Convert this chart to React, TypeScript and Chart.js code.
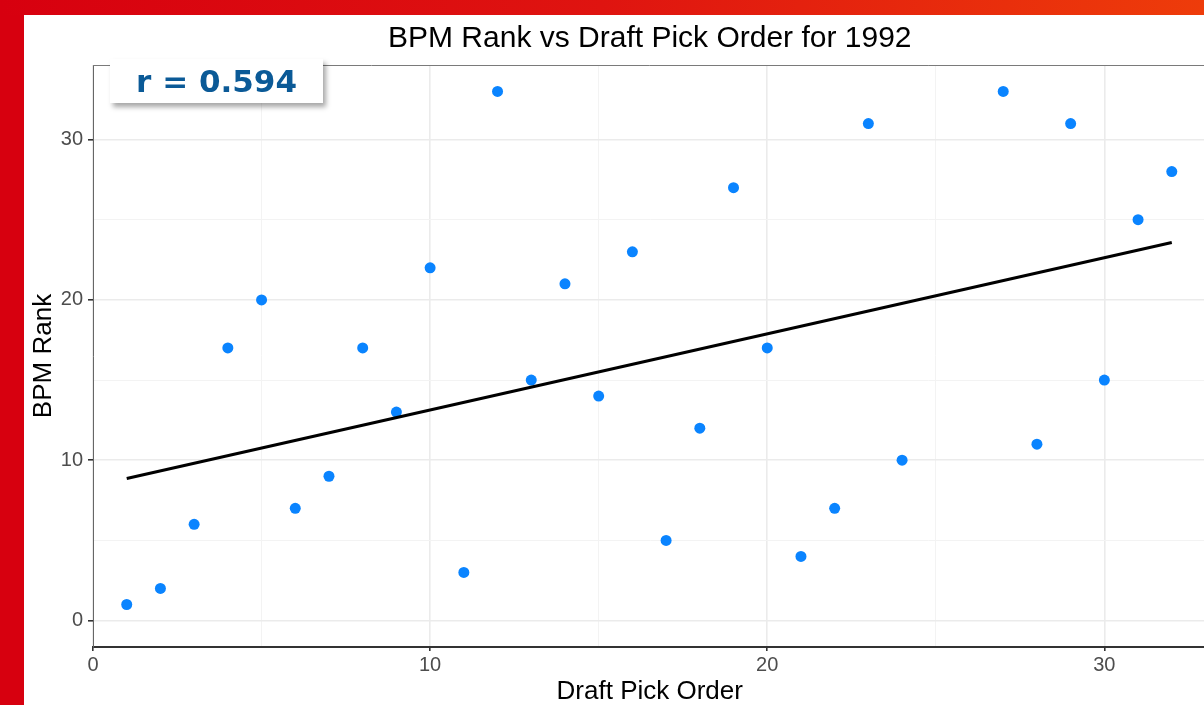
import React, { useEffect, useRef } from "react";
import { Chart, registerables } from "chart.js";

Chart.register(...registerables);

const pickOrder = [1, 2, 3, 4, 5, 6, 7, 8, 9, 10, 11, 12, 13, 14, 15, 16, 17, 18, 19, 20, 21, 22, 23, 24, 27, 28, 29, 30, 31, 32];
const bpmRank = [1, 2, 6, 17, 20, 7, 9, 17, 13, 22, 3, 33, 15, 21, 14, 23, 5, 12, 27, 17, 4, 7, 31, 10, 33, 11, 31, 15, 25, 28];
const fitX = [1, 32];
const fitY = [8.86, 23.58];
const xTicks = [0, 5, 10, 15, 20, 25, 30];
const yTicks = [0, 5, 10, 15, 20, 25, 30];
const titleText = "BPM Rank vs Draft Pick Order for 1992";
const xTitle = "Draft Pick Order";
const yTitle = "BPM Rank";
const rLabel = "r = 0.594";

const FONT = "'Liberation Sans', Arial, sans-serif";

const titlePlugin = {
  id: "centerTitle",
  afterDraw(chart: any) {
    const { ctx, chartArea } = chart;
    ctx.save();
    // top panel border
    ctx.strokeStyle = "#7a7a7a";
    ctx.lineWidth = 1;
    ctx.beginPath();
    ctx.moveTo(chartArea.left, chartArea.top + 0.5);
    ctx.lineTo(chartArea.right, chartArea.top + 0.5);
    ctx.stroke();
    ctx.fillStyle = "#000";
    ctx.font = `30px ${FONT}`;
    ctx.textAlign = "center";
    ctx.textBaseline = "middle";
    ctx.fillText(titleText, (chartArea.left + chartArea.right) / 2, 24);
    ctx.restore();
  },
};

export default function App() {
  const ref = useRef<HTMLCanvasElement>(null);

  useEffect(() => {
    if (!ref.current) return;
    const isMajor = (v: number) => v % 10 === 0;
    const chart = new Chart(ref.current, {
      type: "scatter",
      data: {
        datasets: [
          {
            type: "line",
            data: fitX.map((x, i) => ({ x, y: fitY[i] })),
            borderColor: "#000",
            borderWidth: 3,
            pointRadius: 0,
            fill: false,
            order: 1,
          } as any,
          {
            type: "scatter",
            data: pickOrder.map((x, i) => ({ x, y: bpmRank[i] })),
            backgroundColor: "#0a84ff",
            borderWidth: 0,
            pointRadius: 5.5,
            order: 2,
          },
        ],
      },
      plugins: [titlePlugin],
      options: {
        animation: false,
        responsive: false,
        devicePixelRatio: 1,
        layout: { padding: { top: 50, left: 0, right: 0, bottom: 0 } },
        plugins: {
          legend: { display: false },
          title: { display: false },
          tooltip: { enabled: false },
        },
        scales: {
          x: {
            type: "linear",
            min: 0,
            max: 33.03,
            afterBuildTicks: (s: any) => {
              s.ticks = xTicks.map((v) => ({ value: v }));
            },
            afterFit: (s: any) => {
              s.height = 58;
            },
            ticks: {
              callback: (v: any) => (isMajor(Number(v)) ? String(v) : ""),
              color: "#4d4d4d",
              font: { family: FONT, size: 20 },
              padding: 2,
              maxRotation: 0,
              autoSkip: false,
            },
            grid: {
              color: (c: any) => (isMajor(c.tick?.value ?? 0) ? "#ebebeb" : "#f3f3f3"),
              lineWidth: (c: any) => (isMajor(c.tick?.value ?? 0) ? 1.6 : 1),
              tickColor: (c: any) => (isMajor(c.tick?.value ?? 0) ? "#333" : "rgba(0,0,0,0)"),
              tickLength: 4,
            },
            border: { color: "#333", width: 2 },
            title: {
              display: true,
              text: xTitle,
              color: "#000",
              font: { family: FONT, size: 26, lineHeight: 1 },
              padding: { top: 0, bottom: 0 },
            },
          },
          y: {
            type: "linear",
            min: -1.65,
            max: 34.65,
            afterBuildTicks: (s: any) => {
              s.ticks = yTicks.map((v) => ({ value: v }));
            },
            afterFit: (s: any) => {
              s.width = 69;
            },
            ticks: {
              callback: (v: any) => (isMajor(Number(v)) ? String(v) : ""),
              color: "#4d4d4d",
              font: { family: FONT, size: 20 },
              padding: 5,
              autoSkip: false,
            },
            grid: {
              color: (c: any) => (isMajor(c.tick?.value ?? 0) ? "#ebebeb" : "#f3f3f3"),
              lineWidth: (c: any) => (isMajor(c.tick?.value ?? 0) ? 1.6 : 1),
              tickColor: (c: any) => (isMajor(c.tick?.value ?? 0) ? "#333" : "rgba(0,0,0,0)"),
              tickLength: 5,
            },
            border: { color: "#666", width: 1 },
            title: {
              display: true,
              text: yTitle,
              color: "#000",
              font: { family: FONT, size: 26, lineHeight: 1 },
              padding: { top: 7, bottom: 0 },
            },
          },
        },
      },
    });
    return () => chart.destroy();
  }, []);

  return (
    <div
      style={{
        position: "fixed",
        left: 0,
        top: 0,
        width: 1204,
        height: 705,
        overflow: "hidden",
        background: "#d7000f",
      }}
    >
      <div
        style={{
          position: "absolute",
          left: 0,
          top: 0,
          width: 1204,
          height: 15,
          background: "linear-gradient(to right, #d7000f, #df1410 50%, #ee3c0a)",
        }}
      />
      <div
        style={{
          position: "absolute",
          left: 24,
          top: 15,
          width: 1180,
          height: 690,
          background: "#fff",
          overflow: "hidden",
        }}
      >
        <canvas ref={ref} width={1188} height={690} style={{ display: "block", width: 1188, height: 690 }} />
      </div>
      <div
        style={{
          position: "absolute",
          left: 110,
          top: 59,
          width: 213,
          height: 44,
          background: "#fff",
          boxShadow: "3px 4px 5px rgba(0,0,0,0.35)",
          color: "#0b5a97",
          fontFamily: "'DejaVu Sans', Verdana, sans-serif",
          fontWeight: "bold",
          fontSize: 31,
          lineHeight: "44px",
          textAlign: "center",
        }}
      >
        {rLabel}
      </div>
    </div>
  );
}
